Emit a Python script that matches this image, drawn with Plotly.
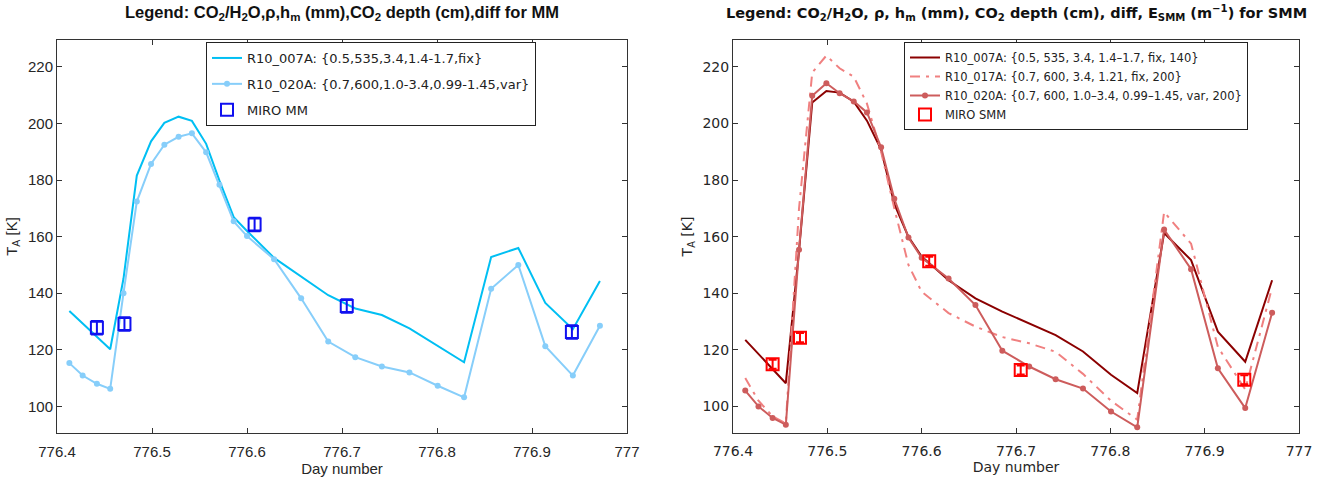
import plotly.graph_objects as go

# ---------------- data ----------------
days = [776.413, 776.427, 776.442, 776.456, 776.470, 776.484, 776.499, 776.513,
        776.528, 776.542, 776.557, 776.571, 776.586, 776.600, 776.6285, 776.657,
        776.6855, 776.714, 776.742, 776.771, 776.8007, 776.8285, 776.857, 776.8856,
        776.914, 776.943, 776.9715]

mm_r007 = [133.7, 129.2, 124.7, 120.2, 145.2, 181.6, 193.7, 200.2, 202.4, 200.9,
           192.8, 179.8, 166.9, 162.0, 152.5, 146.0, 139.3, 134.6, 132.3, 127.6,
           121.3, 115.6, 152.8, 156.0, 136.6, 127.3, 144.3]
mm_r020 = [115.3, 110.9, 108.0, 106.2, 140.0, 172.4, 185.7, 192.5, 195.3, 196.5,
           189.8, 178.3, 165.4, 160.2, 152.0, 138.2, 122.9, 117.4, 114.1, 112.0,
           107.3, 103.2, 141.6, 150.0, 121.3, 110.9, 128.5]

smm_r007 = [123.5, 118.4, 113.3, 108.2, 155.0, 207.4, 211.5, 210.9, 207.7, 201.0,
            190.8, 171.6, 159.9, 153.0, 144.6, 138.2, 133.5, 129.4, 125.2, 119.4,
            111.2, 104.7, 161.3, 151.7, 126.4, 115.8, 144.6]
smm_r017 = [110.0, 102.0, 96.5, 94.0, 170.0, 218.0, 224.0, 219.5, 216.5, 207.0,
            190.0, 170.0, 150.0, 140.5, 133.0, 128.2, 124.5, 122.3, 119.3, 111.5,
            102.0, 95.3, 168.7, 157.5, 121.0, 106.0, 142.0]
smm_r020 = [105.6, 100.0, 95.9, 93.5, 155.4, 209.8, 214.2, 210.7, 207.8, 203.9,
            191.6, 173.4, 159.7, 152.5, 145.2, 135.8, 119.7, 114.1, 109.6, 106.3,
            98.2, 92.6, 162.5, 148.5, 113.5, 99.4, 133.1]

miro_days = [776.442, 776.471, 776.608, 776.705, 776.942]
miro_mm = [127.8, 129.1, 164.3, 135.5, 126.3]
miro_mm_err = [2.4, 2.4, 2.4, 2.4, 2.4]
miro_smm = [114.9, 124.3, 151.3, 112.9, 109.4]
miro_smm_err = [1.6, 1.6, 1.6, 1.6, 1.6]

x_ticks = [776.4, 776.5, 776.6, 776.7, 776.8, 776.9, 777.0]
x_ticklabels = ["776.4", "776.5", "776.6", "776.7", "776.8", "776.9", "777"]
y_ticks = [100, 120, 140, 160, 180, 200, 220]

names_mm = ["R10_007A: {0.5,535,3.4,1.4-1.7,fix}",
            "R10_020A: {0.7,600,1.0-3.4,0.99-1.45,var}",
            "MIRO MM"]
names_smm = ["R10_007A: {0.5, 535, 3.4, 1.4\u20131.7, fix, 140}",
             "R10_017A: {0.7, 600, 3.4, 1.21, fix, 200}",
             "R10_020A: {0.7, 600, 1.0\u20133.4, 0.99\u20131.45, var, 200}",
             "MIRO SMM"]

# ---------------- figure ----------------
fig = go.Figure()

# Left panel (MM)
fig.add_trace(go.Scatter(x=days, y=mm_r007, mode="lines", name=names_mm[0],
                         line=dict(color="#00BFF3", width=2),
                         xaxis="x", yaxis="y", legend="legend", legendgroup="a"))
fig.add_trace(go.Scatter(x=days, y=mm_r020, mode="lines+markers", name=names_mm[1],
                         line=dict(color="#87CEFA", width=2),
                         marker=dict(color="#87CEFA", size=6),
                         xaxis="x", yaxis="y", legend="legend", legendgroup="b"))
fig.add_trace(go.Scatter(x=miro_days, y=miro_mm, mode="markers", name=names_mm[2],
                         marker=dict(symbol="square-open", size=12, color="#1010F0",
                                     line=dict(width=2, color="#1010F0")),
                         error_y=dict(type="data", array=miro_mm_err, visible=True,
                                      color="#1010F0", thickness=2, width=6),
                         xaxis="x", yaxis="y", legend="legend", legendgroup="c"))

# Right panel (SMM)
fig.add_trace(go.Scatter(x=days, y=smm_r007, mode="lines", name=names_smm[0],
                         line=dict(color="#8B0000", width=2),
                         xaxis="x2", yaxis="y2", legend="legend2"))
fig.add_trace(go.Scatter(x=days, y=smm_r017, mode="lines", name=names_smm[1],
                         line=dict(color="#F08080", width=2, dash="10px,6px,3px,6px"),
                         xaxis="x2", yaxis="y2", legend="legend2"))
fig.add_trace(go.Scatter(x=days, y=smm_r020, mode="lines+markers", name=names_smm[2],
                         line=dict(color="#CD5C5C", width=2),
                         marker=dict(color="#CD5C5C", size=6),
                         xaxis="x2", yaxis="y2", legend="legend2"))
fig.add_trace(go.Scatter(x=miro_days, y=miro_smm, mode="markers", name=names_smm[3],
                         marker=dict(symbol="square-open", size=12, color="#FF0000",
                                     line=dict(width=2, color="#FF0000")),
                         error_y=dict(type="data", array=miro_smm_err, visible=True,
                                      color="#FF0000", thickness=2, width=4),
                         xaxis="x2", yaxis="y2", legend="legend2"))

W, H = 1336, 479
yd = [(H - 433) / H, (H - 40) / H]

axis_common = dict(showgrid=False, zeroline=False, showline=True, linecolor="#333333",
                   linewidth=1, mirror="ticks", ticks="inside", ticklen=5,
                   tickcolor="#333333", tickwidth=1, automargin=False)

left_font = dict(family="Liberation Sans, Arial, sans-serif", size=15, color="#262626")
right_font = dict(family="DejaVu Sans, sans-serif", size=14, color="#262626")

fig.update_layout(
    width=W, height=H, margin=dict(l=0, r=0, t=0, b=0),
    paper_bgcolor="white", plot_bgcolor="white",
    xaxis=dict(domain=[57 / W, 627 / W], range=[776.4, 777], tickvals=x_ticks,
               ticktext=x_ticklabels, anchor="y", tickfont=left_font,
               ticklabelstandoff=5,
               title=dict(text="Day number", font=left_font, standoff=1), **axis_common),
    yaxis=dict(domain=yd, range=[90.6, 229.5], tickvals=y_ticks, anchor="x",
               tickfont=left_font,
               title=dict(text="T<sub>A</sub> [K]", font=left_font, standoff=6),
               **axis_common),
    xaxis2=dict(domain=[733 / W, 1299 / W], range=[776.4, 777], tickvals=x_ticks,
                ticktext=x_ticklabels, anchor="y2", tickfont=right_font,
                ticklabelstandoff=5,
                title=dict(text="Day number", font=right_font, standoff=1), **axis_common),
    yaxis2=dict(domain=yd, range=[90.6, 229.5], tickvals=y_ticks, anchor="x2",
                tickfont=right_font,
                title=dict(text="T<sub>A</sub> [K]", font=right_font, standoff=6),
                **axis_common),
    legend=dict(x=206 / W, y=1 - 42 / H, xanchor="left", yanchor="top",
                bgcolor="white", bordercolor="#222222", borderwidth=1,
                font=dict(family="DejaVu Sans, sans-serif", size=13, color="#222222"),
                tracegroupgap=6, itemwidth=30),
    legend2=dict(x=904 / W, y=1 - 42 / H, xanchor="left", yanchor="top",
                 bgcolor="white", bordercolor="#222222", borderwidth=1,
                 font=dict(family="DejaVu Sans, sans-serif", size=11.5, color="#222222"),
                 tracegroupgap=0, itemwidth=30),
    showlegend=True,
)

fig.add_annotation(text="Legend: CO<sub>2</sub>/H<sub>2</sub>O,\u03c1,h<sub>m</sub> (mm),CO<sub>2</sub> depth (cm),diff for MM",
                   x=(57 + 627) / 2 / W, y=1 - 13 / H, xref="paper", yref="paper",
                   showarrow=False, xanchor="center", yanchor="middle",
                   font=dict(family="Liberation Sans, Arial, sans-serif", size=16.5,
                             color="#111111", weight="bold"))
fig.add_annotation(text="Legend: CO<sub>2</sub>/H<sub>2</sub>O, \u03c1, h<sub>m</sub> (mm), CO<sub>2</sub> depth (cm), diff, E<sub>SMM</sub> (m<sup>\u22121</sup>) for SMM",
                   x=(733 + 1299) / 2 / W, y=1 - 13 / H, xref="paper", yref="paper",
                   showarrow=False, xanchor="center", yanchor="middle",
                   font=dict(family="DejaVu Sans, sans-serif", size=14.5,
                             color="#111111", weight="bold"))

fig.write_html("out.html")
